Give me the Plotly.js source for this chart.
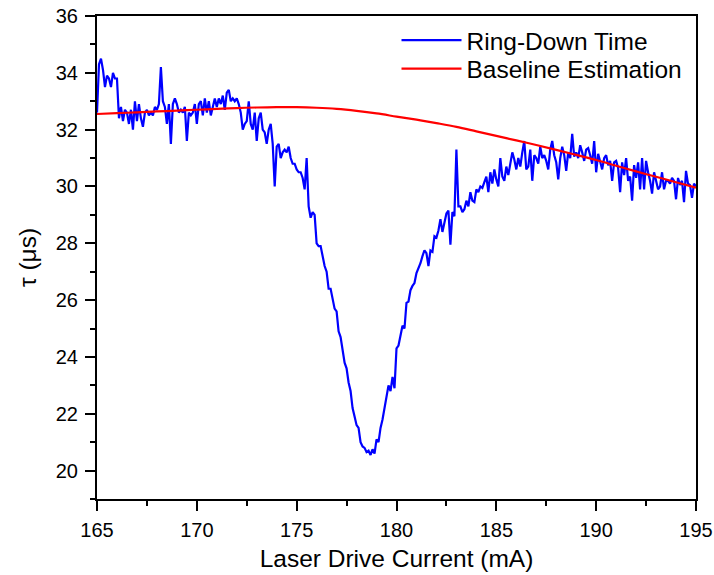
<!DOCTYPE html>
<html>
<head>
<meta charset="utf-8">
<script src="https://cdn.plot.ly/plotly-3.0.1.min.js"></script>
<style>html,body{margin:0;padding:0;background:#fff;}#chart{width:714px;height:575px;}</style>
</head>
<body>
<div id="chart"></div>
<script>
// Laser drive current (mA), 0.1 mA sampling
var current = [
165.0,165.1,165.2,165.3,165.4,165.5,165.6,165.7,165.8,165.9,
166.0,166.1,166.2,166.3,166.4,166.5,166.6,166.7,166.8,166.9,
167.0,167.1,167.2,167.3,167.4,167.5,167.6,167.7,167.8,167.9,
168.0,168.1,168.2,168.3,168.4,168.5,168.6,168.7,168.8,168.9,
169.0,169.1,169.2,169.3,169.4,169.5,169.6,169.7,169.8,169.9,
170.0,170.1,170.2,170.3,170.4,170.5,170.6,170.7,170.8,170.9,
171.0,171.1,171.2,171.3,171.4,171.5,171.6,171.7,171.8,171.9,
172.0,172.1,172.2,172.3,172.4,172.5,172.6,172.7,172.8,172.9,
173.0,173.1,173.2,173.3,173.4,173.5,173.6,173.7,173.8,173.9,
174.0,174.1,174.2,174.3,174.4,174.5,174.6,174.7,174.8,174.9,
175.0,175.1,175.2,175.3,175.4,175.5,175.6,175.7,175.8,175.9,
176.0,176.1,176.2,176.3,176.4,176.5,176.6,176.7,176.8,176.9,
177.0,177.1,177.2,177.3,177.4,177.5,177.6,177.7,177.8,177.9,
178.0,178.1,178.2,178.3,178.4,178.5,178.6,178.7,178.8,178.9,
179.0,179.1,179.2,179.3,179.4,179.5,179.6,179.7,179.8,179.9,
180.0,180.1,180.2,180.3,180.4,180.5,180.6,180.7,180.8,180.9,
181.0,181.1,181.2,181.3,181.4,181.5,181.6,181.7,181.8,181.9,
182.0,182.1,182.2,182.3,182.4,182.5,182.6,182.7,182.8,182.9,
183.0,183.1,183.2,183.3,183.4,183.5,183.6,183.7,183.8,183.9,
184.0,184.1,184.2,184.3,184.4,184.5,184.6,184.7,184.8,184.9,
185.0,185.1,185.2,185.3,185.4,185.5,185.6,185.7,185.8,185.9,
186.0,186.1,186.2,186.3,186.4,186.5,186.6,186.7,186.8,186.9,
187.0,187.1,187.2,187.3,187.4,187.5,187.6,187.7,187.8,187.9,
188.0,188.1,188.2,188.3,188.4,188.5,188.6,188.7,188.8,188.9,
189.0,189.1,189.2,189.3,189.4,189.5,189.6,189.7,189.8,189.9,
190.0,190.1,190.2,190.3,190.4,190.5,190.6,190.7,190.8,190.9,
191.0,191.1,191.2,191.3,191.4,191.5,191.6,191.7,191.8,191.9,
192.0,192.1,192.2,192.3,192.4,192.5,192.6,192.7,192.8,192.9,
193.0,193.1,193.2,193.3,193.4,193.5,193.6,193.7,193.8,193.9,
194.0,194.1,194.2,194.3,194.4,194.5,194.6,194.7,194.8,194.9,
195.0
];

// Ring-down time (µs)
var ringDown = [
32.6,34.3,34.5,34.1,33.5,33.9,33.8,33.5,34.0,33.8,
33.8,32.4,32.8,32.3,32.7,32.6,32.2,32.7,32.0,33.0,
32.3,32.9,32.4,32.1,32.6,32.7,32.5,32.6,32.5,32.8,
32.7,32.9,34.2,33.0,32.8,32.2,32.9,31.5,32.9,33.1,
32.9,32.6,32.7,32.6,32.8,31.6,32.6,32.5,32.6,32.9,
32.2,32.9,33.0,32.5,33.1,32.6,33.0,32.5,32.8,33.1,
32.8,33.1,32.9,33.2,32.7,33.3,33.4,33.0,33.1,33.0,
33.1,32.9,32.6,32.0,32.2,32.3,33.0,32.2,32.0,32.6,
31.6,32.4,32.6,32.0,31.9,31.5,32.0,32.2,31.5,30.0,
31.4,31.5,31.0,31.2,31.3,31.2,31.4,31.0,30.8,30.8,
30.6,30.5,30.5,30.3,29.9,31.0,29.3,28.9,29.1,29.0,
28.0,27.9,27.9,27.5,27.2,27.0,26.4,26.4,26.1,25.7,
25.6,24.9,24.7,24.3,23.8,23.6,23.1,22.8,22.2,21.9,
21.6,21.5,21.0,20.85,20.8,20.65,20.7,20.55,20.75,20.6,
21.1,21.0,21.5,21.8,22.2,22.6,23.0,22.8,23.3,22.9,
24.3,24.4,24.7,25.1,25.0,25.9,25.95,26.35,26.5,26.6,
26.95,27.1,27.3,27.55,27.75,27.65,27.2,27.75,27.7,28.25,
28.2,28.45,28.85,28.4,28.8,29.05,29.15,27.95,29.1,28.95,
31.3,29.3,29.3,29.1,29.2,29.5,29.3,29.8,29.5,29.45,
29.9,29.8,30.0,29.95,30.15,30.35,29.8,30.5,30.1,30.6,
30.25,30.0,31.0,30.35,30.2,30.7,30.4,30.85,31.2,30.95,
30.6,31.0,30.7,31.2,31.6,30.6,30.7,31.3,30.2,31.1,
31.0,30.8,31.4,31.0,31.1,30.9,30.6,31.3,31.6,31.1,
30.85,30.25,31.0,31.4,31.1,30.55,31.2,31.0,31.85,31.05,
31.2,31.0,31.45,31.2,30.9,31.3,31.35,31.1,30.8,31.6,
30.5,31.15,30.9,30.6,31.0,31.1,30.75,30.9,30.2,30.85,
30.9,30.65,29.8,30.85,30.4,31.0,30.2,30.35,29.5,30.75,
30.3,30.85,29.9,31.0,29.9,30.9,30.5,30.2,29.75,30.5,
30.2,29.9,30.0,30.5,29.9,30.2,30.2,30.1,30.3,30.2,
29.55,30.3,30.05,30.2,29.45,30.55,30.1,30.05,29.6,30.1,
30.0
];

// Baseline estimation, 1 mA sampling
var baseCurrent = [165,166,167,168,169,170,171,172,173,174,175,176,177,178,179,180,
                   181,182,183,184,185,186,187,188,189,190,191,192,193,194,195];
var baseline = [32.55,32.58,32.61,32.64,32.67,32.70,32.73,32.76,32.78,32.79,32.79,32.77,32.73,32.66,32.57,32.46,
                32.35,32.23,32.10,31.94,31.78,31.62,31.46,31.29,31.11,30.93,30.73,30.53,30.34,30.15,29.96];

var seriesNames = ['Ring-Down Time', 'Baseline Estimation'];
var xTitle = 'Laser Drive Current (mA)';
var yTitle = 'τ (μs)';

var FONT = 'Liberation Sans, Arial, Helvetica, sans-serif';
var LEGEND_FONT = {family: FONT, size: 24.5, color: '#000'};

var traces = [
  {x: current, y: ringDown, type: 'scatter', mode: 'lines', name: seriesNames[0],
   line: {color: '#0000ff', width: 2.2}, legend: 'legend'},
  {x: baseCurrent, y: baseline, type: 'scatter', mode: 'lines', name: seriesNames[1],
   line: {color: '#ff0000', width: 2.2, shape: 'spline'}, legend: 'legend2'}
];

var axisCommon = {
  showline: true, linecolor: '#000', linewidth: 2, mirror: true,
  showgrid: false, zeroline: false,
  ticks: 'outside', ticklen: 10, tickwidth: 2, tickcolor: '#000',
  tickfont: {family: FONT, size: 20, color: '#000'}
};

var legendCommon = {x: 0.50, xanchor: 'left', yanchor: 'middle',
  bgcolor: 'rgba(0,0,0,0)', borderwidth: 0, font: LEGEND_FONT, itemwidth: 60};

var layout = {
  width: 714, height: 575,
  margin: {l: 97, r: 18, t: 16, b: 76},
  paper_bgcolor: '#fff', plot_bgcolor: '#fff',
  font: {family: FONT, color: '#000'},
  showlegend: true,
  legend: Object.assign({}, legendCommon, {y: 0.950}),
  legend2: Object.assign({}, legendCommon, {y: 0.891}),
  xaxis: Object.assign({}, axisCommon, {
    range: [165, 195], tick0: 165, dtick: 5, ticklabelstandoff: 2,
    minor: {dtick: 2.5, ticks: 'outside', ticklen: 5, tickwidth: 2, tickcolor: '#000'},
    title: {text: xTitle, font: {family: FONT, size: 24.5, color: '#000'}, standoff: 10}
  }),
  yaxis: Object.assign({}, axisCommon, {
    range: [19, 36], tick0: 20, dtick: 2, ticklabelstandoff: 3,
    minor: {dtick: 1, ticks: 'outside', ticklen: 5, tickwidth: 2, tickcolor: '#000'},
    title: {text: yTitle, font: {family: FONT, size: 24.5, color: '#000'}, standoff: 12}
  })
};

Plotly.newPlot('chart', traces, layout, {displayModeBar: false, staticPlot: true});
</script>
</body>
</html>
